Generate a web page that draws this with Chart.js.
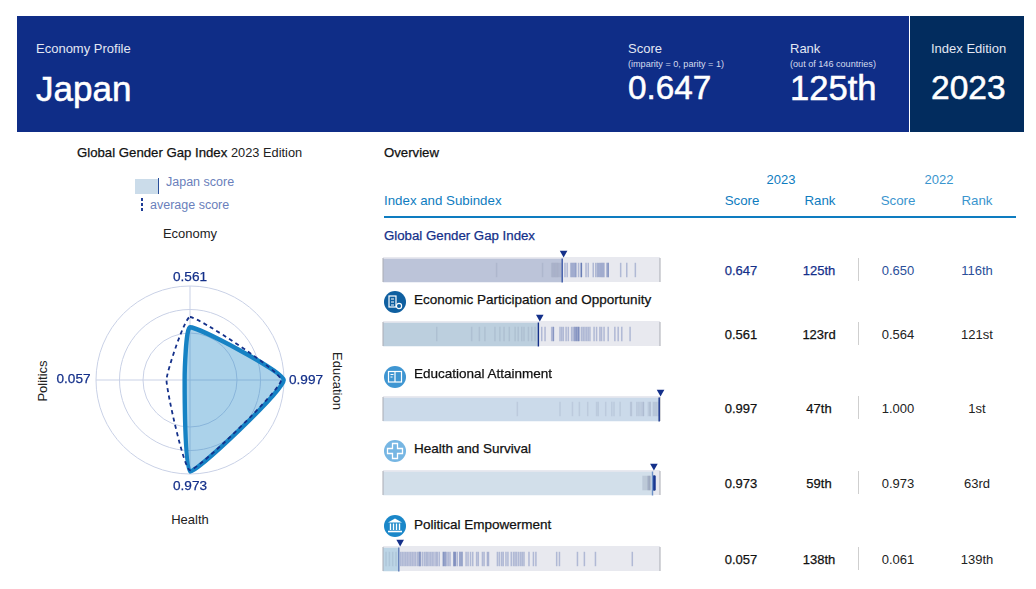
<!DOCTYPE html>
<html><head><meta charset="utf-8">
<script src="https://cdn.jsdelivr.net/npm/chart.js@4"></script>
<style>
html,body{margin:0;padding:0;background:#fff;width:1036px;height:589px;overflow:hidden;font-family:"Liberation Sans",Arial,sans-serif;}
.t{position:absolute;white-space:nowrap;line-height:1;}
.m{-webkit-text-stroke:.25px currentColor;}
.h{-webkit-text-stroke:.55px currentColor;}
.b{position:absolute;}
canvas{position:absolute;display:block;}
svg{position:absolute;}
</style></head><body>
<div class="b" style="left:17px;top:16px;width:892px;height:116px;background:#0f2d87"></div>
<div class="b" style="left:910px;top:16px;width:114px;height:116px;background:#022c5e"></div>
<canvas id="radar"></canvas>
<script>
// ---- data ----
const axisNames = ["Economy","Education","Health","Politics"];
const japanScores = [0.561,0.997,0.973,0.057];
const averageScores = [0.67,0.97,0.96,0.25];
const ringTicks = [0.25,0.5,0.75,1];
const rowTitles = ["Global Gender Gap Index","Economic Participation and Opportunity","Educational Attainment","Health and Survival","Political Empowerment"];
const rowScores = [0.647,0.561,0.997,0.973,0.057];
const rowRanks = ["125th","123rd","47th","59th","138th"];
const prevScores = ["0.650","0.564","1.000","0.973","0.061"];
const prevRanks = ["116th","121st","1st","63rd","139th"];
const ticksGlobal = [.410,.576,.609,.613,.617,.621,.625,.629,.633,.637,.642,.657,.665,.678,.682,.686,.690,.694,.697,.706,.716,.716,.716,.733,.741,.759,.768,.774,.778,.782,.786,.790,.794,.798,.808,.813,.813,.858,.880,.911];
const ticksEconomy = [.194,.320,.348,.368,.404,.422,.437,.456,.477,.488,.501,.509,.525,.537,.549,.573,.585,.609,.615,.615,.639,.645,.651,.661,.669,.681,.687,.693,.693,.699,.699,.705,.705,.709,.717,.723,.729,.735,.741,.747,.762,.771,.783,.789,.798,.813,.837,.849,.862,.892];
const ticksEducation = [.485,.639,.684,.709,.739,.771,.777,.804,.826,.834,.856,.894,.897,.916,.922,.928,.934,.940,.940,.958,.964,.964,.976,.980,.984,.988,.994];
const ticksHealth = [.938,.942,.946,.950,.954,.957,.957,.960,.960,.963,.963,.965,.976,.976,.976,.976,.976,.976,.976,.976,.976,.979,.979,.979,.979,.979,.979,.979,.979,.979,.981,.981,.981,.981,.981,.981,.981,.981,.981];
const ticksPolitics = [.011,.023,.035,.047,.064,.070,.076,.082,.088,.094,.100,.106,.112,.118,.125,.130,.134,.134,.142,.149,.155,.160,.166,.172,.178,.184,.191,.196,.203,.218,.218,.224,.224,.230,.236,.242,.256,.256,.261,.261,.268,.278,.278,.285,.285,.300,.307,.316,.324,.338,.344,.359,.365,.377,.381,.413,.420,.428,.434,.444,.451,.463,.471,.477,.483,.490,.497,.503,.509,.527,.543,.552,.627,.637,.702,.727,.767,.900];
const rowTicks = [ticksGlobal,ticksEconomy,ticksEducation,ticksHealth,ticksPolitics];

// ---- styling / layout ----
const NAVY="#14308a", BLUE="#0e7cc0";
const fills=["#bcc4d9","#bccfde","#cbdaea","#d2dfea","#bcd5e6"];
const markerColors=["#3c5aa8","#14308a","#14308a","#6d90c8","#5d7bb8"];
const stripTops=[257,321,396,470,546];
const valueY=[270,334,408,483,559];
const titleY=[235.5,299.5,373.5,448.5,524.5];
const iconY=[0,302,377,451,526];
const iconColors=[null,"#0f5fa0","#3f96d2","#76b6e3","#1a87c9"];

function txt(s,x,y,size,color,o={}){
  const d=document.createElement('div');d.className='t'+(o.m?' m':'')+(o.h?' h':'');d.textContent=s;
  d.style.fontSize=size+'px';d.style.color=color;d.style.left=x+'px';d.style.top=y+'px';
  const tx=o.a==='c'?'-50%':o.a==='r'?'-100%':'0';
  d.style.transform=`translate(${tx},-50%)`;
  document.body.appendChild(d);return d;
}
function box(x,y,w,h,c){const d=document.createElement('div');d.className='b';
  d.style.cssText=`left:${x}px;top:${y}px;width:${w}px;height:${h}px;background:${c}`;document.body.appendChild(d);}

// header
txt("Economy Profile",36,48,13,"#e3e7f3");
txt("Japan",36,88,35,"#fff",{h:1});
txt("Score",628,48,13,"#e3e7f3");
txt("(imparity = 0, parity = 1)",628,64.5,9.1,"#d5dbee");
txt(rowScores[0].toFixed(3),628,88,33.3,"#fff",{h:1});
txt("Rank",790,48,13,"#e3e7f3");
txt("(out of 146 countries)",790,64.5,9.1,"#d5dbee");
txt(rowRanks[0],790,88,34.6,"#fff",{h:1});
txt("Index Edition",931,48,13,"#e3e7f3");
txt("2023",931,88,33.5,"#fff",{h:1});

// left panel
txt("Global Gender Gap Index",77,153,13.2,"#111",{m:1});
txt("2023 Edition",231,153,12.8,"#222");
box(135,179,23,15,"#cbdcea");box(158,178,1,16,"#2a4f9a");
txt("Japan score",166,182,12.5,"#6a7fbb");
box(141,198,2,3,"#1e3c96");box(141,203,2,3,"#1e3c96");box(141,208,2,3,"#1e3c96");
txt("average score",150,205,12.5,"#6a7fbb");
txt(axisNames[0],190,233,13,"#222",{a:'c'});
txt(axisNames[2],190,519,13,"#222",{a:'c'});
const ed=txt(axisNames[1],337,381,13,"#222",{a:'c'});ed.style.transform='translate(-50%,-50%) rotate(90deg)';
const po=txt(axisNames[3],42,381,13,"#222",{a:'c'});po.style.transform='translate(-50%,-50%) rotate(-90deg)';
txt(japanScores[0].toFixed(3),190,277,13.6,NAVY,{a:'c',m:1});
txt(japanScores[1].toFixed(3),289,380,13.6,NAVY,{m:1});
txt(japanScores[2].toFixed(3),190,486,13.6,NAVY,{a:'c',m:1});
txt(japanScores[3].toFixed(3),56.5,379,13.6,NAVY,{m:1});

// right panel heads
txt("Overview",384,152.5,13.2,"#111",{m:1});
txt("2023",781,179,13,BLUE,{a:'c'});
txt("2022",939,179,13,"#3a95ce",{a:'c'});
txt("Index and Subindex",384,200.5,13.3,BLUE);
txt("Score",742,200.5,13.3,BLUE,{a:'c'});
txt("Rank",820,200.5,13.3,BLUE,{a:'c'});
txt("Score",898,200.5,13.3,"#3a95ce",{a:'c'});
txt("Rank",977,200.5,13.3,"#3a95ce",{a:'c'});
box(384,216,632,2,BLUE);

// icons
const glyphs=[null,
 '<rect x="-6" y="-6" width="7" height="11" fill="none" stroke="#fff" stroke-width="1.2"/><path d="M-4-3h3M-4 0h3M-4 3h3" stroke="#fff" stroke-width="1"/><circle cx="4" cy="4" r="2.6" fill="none" stroke="#fff" stroke-width="1.2"/>',
 '<rect x="-6.5" y="-5.5" width="13" height="10.5" fill="none" stroke="#fff" stroke-width="1.2"/><path d="M0-5.5V5" stroke="#fff" stroke-width="1.2"/><path d="M-4.5-2.5h3M-4.5 0h2" stroke="#fff" stroke-width="1"/>',
 '<path d="M-2.5-7.5h5v5h5v5h-5v5h-5v-5h-5v-5h5z" fill="none" stroke="#fff" stroke-width="1.3"/>',
 '<path d="M-7-3.5L0-7.5L7-3.5z" fill="#fff"/><path d="M-4.5-2.5V4M-1.5-2.5V4M1.5-2.5V4M4.5-2.5V4" stroke="#fff" stroke-width="1.4"/><path d="M-7 5.5H7" stroke="#fff" stroke-width="1.6"/>'];

rowTitles.forEach((title,i)=>{
  if(i===0) txt(title,384,titleY[i],13.25,NAVY,{m:1});
  else{
    txt(title,414,titleY[i],13.5,"#111",{m:1});
    const ns='http://www.w3.org/2000/svg',s=document.createElementNS(ns,'svg');
    s.setAttribute('width','24');s.setAttribute('height','24');s.setAttribute('viewBox','-12 -12 24 24');
    s.style.left='383px';s.style.top=(iconY[i]-12)+'px';
    s.innerHTML=`<circle r="11" fill="${iconColors[i]}"/>`+glyphs[i];
    document.body.appendChild(s);
  }
  const c1=i===0?NAVY:"#111", c2=i===0?"#2a4f9a":"#222";
  txt(rowScores[i].toFixed(3),741,valueY[i],13,c1,{a:'c',m:1});
  txt(rowRanks[i],819,valueY[i],13,c1,{a:'c',m:1});
  txt(prevScores[i],898,valueY[i],13,c2,{a:'c'});
  txt(prevRanks[i],977,valueY[i],13,c2,{a:'c'});
  box(858,valueY[i]-12,1,23,"#cfcfcf");
});

// radar
const rc=document.getElementById('radar');
rc.style.left='80px';rc.style.top='270px';rc.width=220;rc.height=220;rc.style.width='220px';rc.style.height='220px';
new Chart(rc,{type:'radar',
 data:{labels:axisNames,datasets:[
  {label:'average score',data:averageScores,borderColor:'#14308a',borderWidth:1.8,borderDash:[4,3.5],backgroundColor:'transparent',pointRadius:0,tension:.12,clip:false,fill:false},
  {label:'Japan score',data:japanScores,borderColor:'#1682c4',borderWidth:4.4,borderJoinStyle:'round',backgroundColor:'rgba(22,130,196,.36)',pointRadius:0,tension:.13,clip:false,fill:true}
 ]},
 options:{responsive:false,animation:false,layout:{padding:16,autoPadding:false},
  plugins:{legend:{display:false},tooltip:{enabled:false}},
  scales:{r:{min:0,max:1,afterBuildTicks(sc){sc.ticks=ringTicks.map(v=>({value:v}));},
   ticks:{display:false},pointLabels:{display:false},
   grid:{circular:true,color:'#c9d1e6',lineWidth:1},angleLines:{display:true,color:'#c9d1e6',lineWidth:1}}}}
});

// strips
rowTicks.forEach((ticks,i)=>{
  const c=document.createElement('canvas');
  c.width=287;c.height=40;c.style.cssText=`left:378px;top:${stripTops[i]-12}px;width:287px;height:40px`;
  document.body.appendChild(c);
  const score=rowScores[i], pale="rgba(60,70,110,.10)", strong="rgba(25,55,145,.27)";
  const band=(x0,x1,y,h,color)=>({type:'scatter',showLine:true,data:[{x:x0,y},{x:x1,y}],borderColor:color,borderWidth:h,pointRadius:0,clip:false,borderCapStyle:'butt'});
  new Chart(c,{type:'scatter',data:{datasets:[
    {data:[{x:score+.005,y:8}],pointStyle:'triangle',rotation:180,pointRadius:4.4,backgroundColor:NAVY,borderWidth:0,clip:false},
    {data:[{x:score,y:25.5}],pointStyle:'line',rotation:90,pointRadius:12,borderColor:markerColors[i],pointBorderWidth:1.4,clip:false},
    {data:[{x:0,y:25},{x:1,y:25}],pointStyle:'line',rotation:90,pointRadius:12,borderColor:'#a9abb3',pointBorderWidth:1,clip:false},
    {data:ticks.map(v=>({x:v,y:25})),pointStyle:'line',rotation:90,pointRadius:7.2,pointBorderWidth:1.5,clip:false,
     pointBorderColor:ctx=>ctx.raw&&ctx.raw.x<score?pale:strong},
    band(0,score,25.5,23.5,fills[i]),
    band(0,1,24.5,25,"#e8e9ef")
  ]},options:{responsive:false,animation:false,events:[],layout:{autoPadding:false,padding:{left:5,right:5,top:0,bottom:0}},
    plugins:{legend:{display:false},tooltip:{enabled:false}},
    scales:{x:{type:'linear',min:0,max:1,display:false},y:{type:'linear',min:0,max:40,reverse:true,display:false}}}});
});
</script>
</body></html>
